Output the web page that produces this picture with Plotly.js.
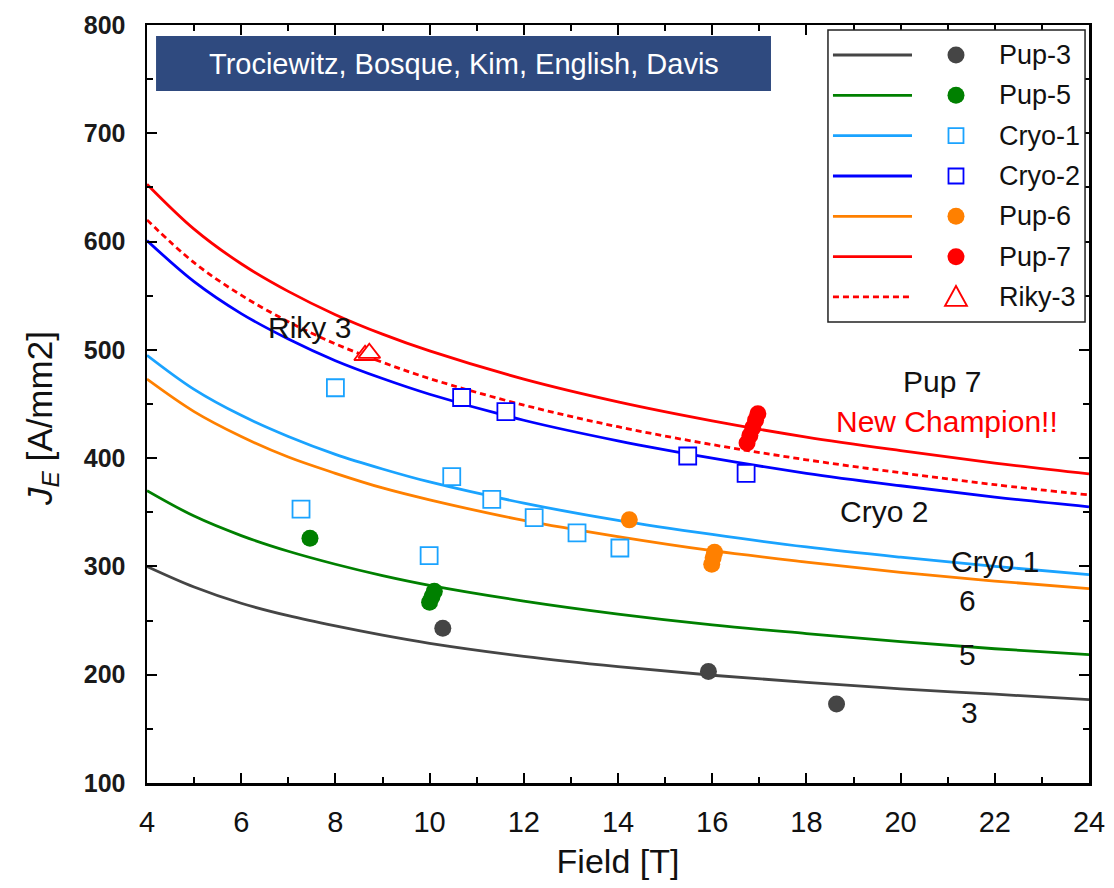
<!DOCTYPE html>
<html><head><meta charset="utf-8">
<script src="https://cdn.plot.ly/plotly-3.0.1.min.js"></script>
<style>html,body{margin:0;padding:0;background:#fff}</style>
</head><body><div id="chart" style="width:1114px;height:888px"></div>
<script>
// ---- fitted curves ----
const fitField = [4, 5, 6, 7, 8, 9, 10, 12, 14, 16, 18, 20, 22, 24];
const fitPup3  = [300, 281, 266, 254.5, 245, 236.5, 229, 217, 207.5, 199.5, 193, 187, 182, 177];
const fitPup5  = [370, 346.5, 328.5, 314, 302, 291.5, 282.5, 268, 256, 246, 238, 230.5, 224, 218.5];
const fitCryo1 = [495, 463.5, 439.5, 420, 403.5, 390, 378, 358.5, 342.5, 329.5, 318, 308.5, 300, 292.5];
const fitCryo2 = [601, 563, 533.5, 510, 490, 473.5, 459, 435, 416, 400, 386, 374.5, 364, 355];
const fitPup6  = [473, 443, 420, 401, 386, 372.5, 361.5, 342.5, 327.5, 314.5, 304, 294.5, 286.5, 279.5];
const fitPup7  = [653, 611.5, 579.5, 554, 532.5, 514.5, 499, 473, 452, 434.5, 419.5, 407, 395.5, 385.5];
const fitRiky3 = [620, 580.5, 550.5, 526, 505.5, 488.5, 473.5, 449, 429, 412.5, 398.5, 386.5, 375.5, 366];

// ---- measured points ----
const pup3Field  = [10.28, 15.92, 18.64];
const pup3JE     = [243, 203, 173];
const pup5Field  = [7.46, 10.0, 10.05, 10.1];
const pup5JE     = [326, 267, 272, 277];
const cryo1Field = [7.27, 8.0, 9.99, 10.47, 11.32, 12.22, 13.13, 14.04];
const cryo1JE    = [353, 465, 310, 383, 362, 345, 331, 317];
const cryo2Field = [10.68, 11.62, 15.48, 16.72];
const cryo2JE    = [456, 443, 402, 386];
const pup6Field  = [14.24, 15.99, 16.02, 16.05];
const pup6JE     = [343, 302, 308, 313];
const pup7Field  = [16.74, 16.80, 16.86, 16.92, 16.97];
const pup7JE     = [414, 421, 428, 435, 441];
const riky3Field = [8.63, 8.72];
const riky3JE    = [495, 497];

const seriesNames  = ['Pup-3', 'Pup-5', 'Cryo-1', 'Cryo-2', 'Pup-6', 'Pup-7', 'Riky-3'];
const seriesColors = ['#454545', '#008000', '#1AA3FF', '#0000FF', '#FF8000', '#FF0000', '#FF0000'];
const seriesSymbols = ['circle', 'circle', 'square-open', 'square-open', 'circle', 'circle', 'triangle-up-open'];
const seriesDash = ['solid', 'solid', 'solid', 'solid', 'solid', 'solid', '6px,4px'];
const fitY = [fitPup3, fitPup5, fitCryo1, fitCryo2, fitPup6, fitPup7, fitRiky3];
const ptX = [pup3Field, pup5Field, cryo1Field, cryo2Field, pup6Field, pup7Field, riky3Field];
const ptY = [pup3JE, pup5JE, cryo1JE, cryo2JE, pup6JE, pup7JE, riky3JE];

const curveLabels = ['Riky 3', 'Pup 7', 'New Champion!!', 'Cryo 2', 'Cryo 1', '6', '5', '3'];
const curveLabelX = [7.46, 20.88, 20.99, 19.65, 22.0, 21.41, 21.41, 21.47];
const curveLabelY = [521, 471, 434, 351, 305, 269, 219, 165];
const curveLabelColor = ['#111', '#111', '#FF0000', '#111', '#111', '#111', '#111', '#111'];

const titleText = 'Trociewitz, Bosque, Kim, English, Davis';
const xTitle = 'Field [T]';
const yTitle = '<i>J</i><sub><i>E</i></sub> [A/mm2]';

const FONT = 'Liberation Sans, Arial, sans-serif';
const NARROW = 'Liberation Sans Narrow, Arial Narrow, ' + FONT;
const traces = [];
for (let i = 0; i < seriesNames.length; i++) {
  traces.push({x: fitField, y: fitY[i], mode: 'lines', type: 'scatter', showlegend: false,
    line: {color: seriesColors[i], width: 2.8, shape: 'spline', dash: seriesDash[i]}, hoverinfo: 'skip'});
}
for (let i = 0; i < seriesNames.length; i++) {
  const open = seriesSymbols[i].endsWith('open');
  traces.push({x: ptX[i], y: ptY[i], mode: 'markers', type: 'scatter', name: seriesNames[i], showlegend: false,
    marker: open ? {symbol: seriesSymbols[i].replace('-open',''), size: seriesSymbols[i].startsWith('tri') ? 19 : 17,
                    color: 'rgba(255,255,255,1)', line: {color: seriesColors[i], width: 1.8}}
                 : {symbol: 'circle', size: 17, color: seriesColors[i], line: {width: 0}}});
}

const shapes = [];
const annotations = [];
// title box
shapes.push({type: 'rect', xref: 'paper', yref: 'paper', x0: 0.0096, x1: 0.6624, y0: 0.9129, y1: 0.9855,
  fillcolor: '#2F4A7F', line: {width: 0}, layer: 'above'});
annotations.push({xref: 'paper', yref: 'paper', x: 0.336, y: 0.9492, text: titleText, showarrow: false,
  font: {family: FONT, size: 29, color: '#ffffff'}, xanchor: 'center', yanchor: 'middle'});
// legend box
shapes.push({type: 'rect', xref: 'paper', yref: 'paper', x0: 0.7229, x1: 0.9958, y0: 0.6082, y1: 0.9934,
  fillcolor: '#ffffff', line: {color: '#222', width: 1.5}, layer: 'above'});
const rowY0 = 0.9604, rowStep = 0.0532;
for (let i = 0; i < seriesNames.length; i++) {
  const ry = rowY0 - i * rowStep;
  shapes.push({type: 'line', xref: 'paper', yref: 'paper', x0: 0.7282, x1: 0.8121, y0: ry, y1: ry,
    line: {color: seriesColors[i], width: 2.8, dash: seriesDash[i]}, layer: 'above'});
  const sym = seriesSymbols[i];
  const base = {xref: 'paper', yref: 'paper', xsizemode: 'pixel', ysizemode: 'pixel', xanchor: 0.8588, yanchor: ry, layer: 'above'};
  if (sym === 'circle') {
    shapes.push(Object.assign({type: 'circle', x0: -8.5, x1: 8.5, y0: -8.5, y1: 8.5,
      fillcolor: seriesColors[i], line: {color: seriesColors[i], width: 0}}, base));
  } else if (sym === 'square-open') {
    shapes.push(Object.assign({type: 'rect', x0: -7.5, x1: 7.5, y0: -7.5, y1: 7.5,
      fillcolor: '#fff', line: {color: seriesColors[i], width: 1.8}}, base));
  } else {
    shapes.push(Object.assign({type: 'path', path: 'M -11 -9 L 11 -9 L 0 11 Z',
      fillcolor: '#fff', line: {color: seriesColors[i], width: 1.8}}, base));
  }
  annotations.push({xref: 'paper', yref: 'paper', x: 0.9023, y: ry, text: seriesNames[i], showarrow: false,
    xanchor: 'left', yanchor: 'middle', font: {family: FONT, size: 27, color: '#111'}});
}
for (let i = 0; i < curveLabels.length; i++) {
  annotations.push({x: curveLabelX[i], y: curveLabelY[i], text: curveLabels[i], showarrow: false,
    xanchor: 'center', yanchor: 'middle', font: {family: FONT, size: 30, color: curveLabelColor[i]}});
}
// y-axis title as a rotated annotation (placed like the reference)
annotations.push({xref: 'paper', yref: 'paper', x: -0.1115, y: 0.4815, text: yTitle, textangle: -90,
  showarrow: false, xanchor: 'center', yanchor: 'middle', font: {family: FONT, size: 35, color: '#111'}});

const layout = {
  width: 1114, height: 888,
  margin: {l: 147, r: 25, t: 25, b: 105},
  paper_bgcolor: '#fff', plot_bgcolor: '#fff',
  showlegend: false,
  xaxis: {range: [4, 24], tick0: 4, dtick: 2, ticks: 'inside', ticklen: 10, tickwidth: 2, tickcolor: '#000',
    showline: true, linewidth: 2.5, linecolor: '#000', mirror: 'ticks', showgrid: false, zeroline: false,
    minor: {dtick: 1, ticks: 'inside', ticklen: 6, tickwidth: 2, tickcolor: '#000'},
    ticklabelstandoff: 12,
    tickfont: {family: NARROW, size: 29, color: '#111'},
    title: {text: xTitle, font: {family: NARROW, size: 34, color: '#111'}, standoff: 12}},
  yaxis: {range: [100, 800], tick0: 100, dtick: 100, ticks: 'inside', ticklen: 10, tickwidth: 2, tickcolor: '#000',
    showline: true, linewidth: 2.5, linecolor: '#000', mirror: 'ticks', showgrid: false, zeroline: false,
    minor: {dtick: 50, ticks: 'inside', ticklen: 6, tickwidth: 2, tickcolor: '#000'},
    ticklabelstandoff: 14,
    tickfont: {family: FONT, size: 25, color: '#1a1a1a', weight: 'bold'}},
  shapes: shapes,
  annotations: annotations
};
Plotly.newPlot('chart', traces, layout, {displayModeBar: false, staticPlot: true});
</script></body></html>
